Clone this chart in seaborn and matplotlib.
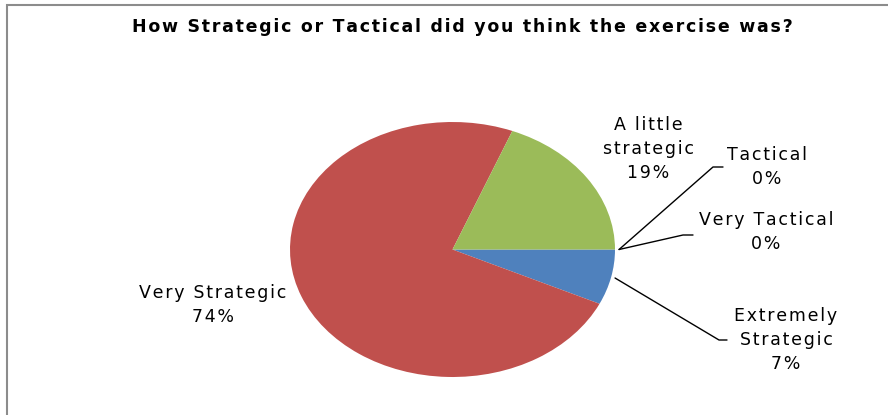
import matplotlib
matplotlib.use("Agg")
import matplotlib.pyplot as plt
from matplotlib.lines import Line2D
from matplotlib.patches import Rectangle
import seaborn as sns
import numpy as np

# ---- data ----
categories = ["Extremely Strategic", "Very Strategic", "A little strategic", "Tactical", "Very Tactical"]
values = [7, 74, 19, 0, 0]
pct_labels = ["7%", "74%", "19%", "0%", "0%"]
label_text = ["Extremely\nStrategic", "Very Strategic", "A little\nstrategic", "Tactical", "Very Tactical"]
title = "How Strategic or Tactical did you think the exercise was?"

sns.set_theme(style="white")
plt.rcParams['font.family'] = ['DejaVu Sans']
colors = sns.color_palette(["#4F81BD", "#C0504D", "#9BBB59", "#8064A2", "#4BACC6"])

W, H = 888, 415
fig = plt.figure(figsize=(W / 100, H / 100), dpi=100)
fig.patch.set_facecolor("white")


def spaced(s):
    # mimic the wide letter spacing of the original rendering
    return "\n".join("\u200a".join(line) for line in s.split("\n"))


# pie geometry in pixels (ellipse)
cx, cy, rx, ry = 452.5, 249.5, 162.5, 127.5
ax = fig.add_axes([0, 0, 1, 1])
wedges, _ = ax.pie(values, colors=colors, startangle=0, counterclock=False,
                   wedgeprops=dict(linewidth=0), normalize=True)
ax.set_aspect('auto')
ax.set_xlim((0 - cx) / rx, (W - cx) / rx)
ax.set_ylim((cy - H) / ry, cy / ry)
ax.axis('off')


def px(x, y):
    return (x / W, 1 - y / H)


# frame
fig.add_artist(Rectangle(px(7, 430), (W + 20) / W, (430 - 5) / H, transform=fig.transFigure,
                         fill=False, edgecolor="#8c8c8c", linewidth=1.5))

fig.text(*px(462, 27), spaced(title), ha="center", va="center", fontsize=12.5,
         fontweight="bold", color="black")

fs = 12.5
ls = 1.45
label_pos = {
    "Extremely Strategic": (786, 340),
    "Very Strategic": (213, 305),
    "A little strategic": (648, 149),
    "Tactical": (767, 167),
    "Very Tactical": (766, 232),
}
elbows = {
    "Extremely Strategic": [(719, 340), (727, 340)],
    "Tactical": [(713, 167), (723, 167)],
    "Very Tactical": [(683, 235), (693, 235)],
}

inv = fig.transFigure.inverted()
for i, cat in enumerate(categories):
    x, y = label_pos[cat]
    fig.text(*px(x, y), spaced(label_text[i] + "\n" + pct_labels[i]), ha="center", va="center",
             multialignment="center", fontsize=fs, linespacing=ls, color="black")
    if cat in elbows:
        w = wedges[i]
        mid = np.deg2rad((w.theta1 + w.theta2) / 2)
        r = 1.025
        a = inv.transform(ax.transData.transform((r * np.cos(mid), r * np.sin(mid))))
        pts = [tuple(a)] + [px(*p) for p in elbows[cat]]
        xs, ys = zip(*pts)
        fig.add_artist(Line2D(xs, ys, transform=fig.transFigure, color="black", linewidth=1))

fig.savefig("out.png", dpi=100)
